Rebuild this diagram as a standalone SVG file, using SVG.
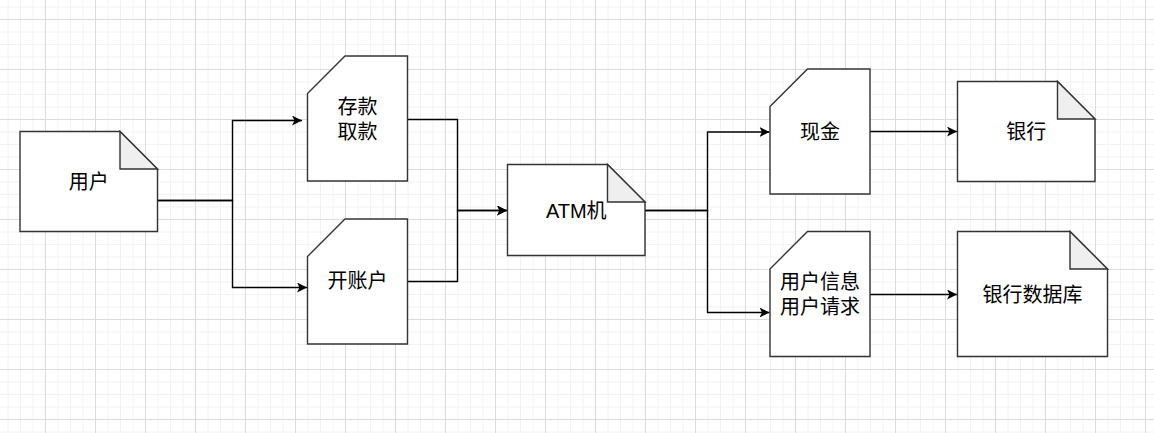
<svg xmlns="http://www.w3.org/2000/svg" width="1154" height="433" viewBox="0 0 1154 433">
  <defs>
    <pattern id="grid" x="45" y="19" width="50" height="50" patternUnits="userSpaceOnUse">
      <path d="M13,0V50M25.5,0V50M38,0V50M0,13H50M0,25.5H50M0,38H50" stroke="#f2f2f2" stroke-width="1" fill="none"/>
      <path d="M0.5,0V50M0,0.5H50" stroke="#dcdcdc" stroke-width="1" fill="none"/>
    </pattern>
    <marker id="arrow" markerUnits="userSpaceOnUse" markerWidth="11" markerHeight="11" refX="10" refY="5" orient="auto" viewBox="0 0 11 11">
      <path d="M0,0 L10,5 L0,10 L2.5,5 Z" fill="#000"/>
    </marker>
  </defs>
  <style>
    .shape { fill: #ffffff; stroke: #333333; stroke-width: 1.4; }
    .fold { fill: #efefef; stroke: #333333; stroke-width: 1.4; stroke-linejoin: miter; }
    .edge { fill: none; stroke: #000000; stroke-width: 1.4; }
    .lbl { font-family: "Liberation Sans", "Noto Sans CJK SC", sans-serif; font-size: 20px; fill: #000000; text-anchor: middle; dominant-baseline: central; }
  </style>
  <rect x="0" y="0" width="1154" height="433" fill="#ffffff"/>
  <rect x="0" y="0" width="1154" height="433" fill="url(#grid)"/>

  <g id="connectors">
    <path class="edge" d="M157.5,200.5 H232.5 V120.5 H302" marker-end="url(#arrow)"/>
    <path class="edge" d="M157.5,200.5 H232.5 V287.5 H307" marker-end="url(#arrow)"/>
    <path class="edge" d="M407.5,119.5 H457.5 V210.5 H507" marker-end="url(#arrow)"/>
    <path class="edge" d="M407.5,281.5 H457.5 V210.5 H507" marker-end="url(#arrow)"/>
    <path class="edge" d="M645,210.5 H707.5 V132 H769.5" marker-end="url(#arrow)"/>
    <path class="edge" d="M645,210.5 H707.5 V312.5 H769.5" marker-end="url(#arrow)"/>
    <path class="edge" d="M870,131.5 H957" marker-end="url(#arrow)"/>
    <path class="edge" d="M870,294.5 H957" marker-end="url(#arrow)"/>
  </g>

  <g id="node-user">
    <path class="shape" d="M20,131.5 H120 L157.5,169 V231.5 H20 Z"/>
    <path class="fold" d="M120,131.5 V169 H157.5 Z"/>
    <text class="lbl" x="88.75" y="181.5">用户</text>
  </g>

  <g id="node-deposit">
    <path class="shape" d="M345,56 H407.5 V181 H307.5 V93.5 Z"/>
    <text class="lbl" x="357.5" y="107">存款</text>
    <text class="lbl" x="357.5" y="132">取款</text>
  </g>

  <g id="node-open">
    <path class="shape" d="M345,219 H407.5 V344 H307.5 V256.5 Z"/>
    <text class="lbl" x="357.5" y="281">开账户</text>
  </g>

  <g id="node-atm">
    <path class="shape" d="M507.5,164.5 H607.5 L645,202 V255.5 H507.5 Z"/>
    <path class="fold" d="M607.5,164.5 V202 H645 Z"/>
    <text class="lbl" x="576.25" y="211">ATM机</text>
  </g>

  <g id="node-cash">
    <path class="shape" d="M807.5,69 H870 V194 H770 V106.5 Z"/>
    <text class="lbl" x="820" y="132">现金</text>
  </g>

  <g id="node-userinfo">
    <path class="shape" d="M807.5,231.5 H870 V356.5 H770 V269 Z"/>
    <text class="lbl" x="820" y="281.5">用户信息</text>
    <text class="lbl" x="820" y="306.5">用户请求</text>
  </g>

  <g id="node-bank">
    <path class="shape" d="M957.5,81.5 H1057.5 L1095,119 V181.5 H957.5 Z"/>
    <path class="fold" d="M1057.5,81.5 V119 H1095 Z"/>
    <text class="lbl" x="1026.25" y="132">银行</text>
  </g>

  <g id="node-bankdb">
    <path class="shape" d="M957.5,231.5 H1070 L1107.5,269 V356.5 H957.5 Z"/>
    <path class="fold" d="M1070,231.5 V269 H1107.5 Z"/>
    <text class="lbl" x="1032.5" y="295">银行数据库</text>
  </g>
</svg>
